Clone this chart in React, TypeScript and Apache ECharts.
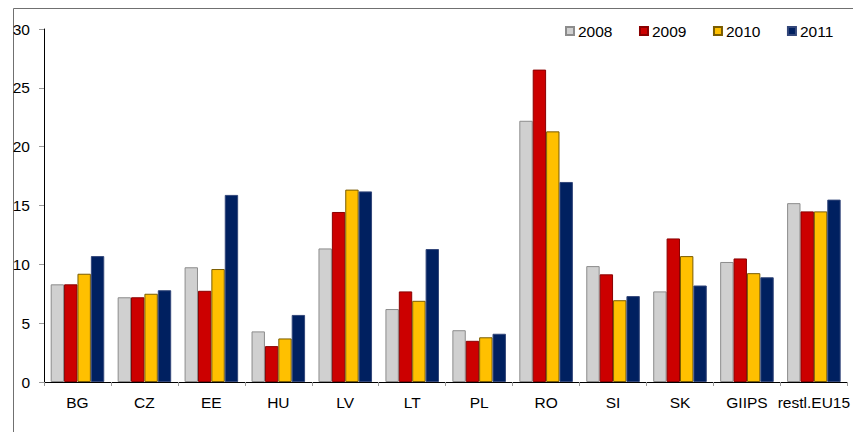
import React, { useEffect, useRef } from "react";
import * as echarts from "echarts";

const categories = ["BG", "CZ", "EE", "HU", "LV", "LT", "PL", "RO", "SI", "SK", "GIIPS", "restl.EU15"];
const years = ["2008", "2009", "2010", "2011"];
const v2008 = [8.3, 7.2, 9.75, 4.3, 11.35, 6.2, 4.4, 22.2, 9.85, 7.7, 10.2, 15.2];
const v2009 = [8.3, 7.2, 7.75, 3.05, 14.45, 7.7, 3.5, 26.55, 9.15, 12.2, 10.5, 14.5];
const v2010 = [9.2, 7.5, 9.6, 3.7, 16.35, 6.9, 3.8, 21.3, 6.95, 10.7, 9.25, 14.5];
const v2011 = [10.7, 7.8, 15.9, 5.7, 16.2, 11.3, 4.1, 17.0, 7.3, 8.2, 8.9, 15.5];
const yTicks = [0, 5, 10, 15, 20, 25, 30];

const fills = ["#d0d0d0", "#cc0000", "#ffc000", "#002060"];
const borders = ["#8c8c8c", "#8a0000", "#7a5c00", "#33477a"];

export default function App() {
  const ref = useRef<HTMLDivElement>(null);
  useEffect(() => {
    if (!ref.current) return;
    const chart = echarts.init(ref.current, null, { renderer: "svg" });
    const data = [v2008, v2009, v2010, v2011];
    const font = "'Liberation Sans', Arial, sans-serif";
    const fs = 15.5;
    chart.setOption({
      animation: false,
      textStyle: { fontFamily: font },
      graphic: [
        {
          type: "rect",
          left: 11,
          top: 6,
          shape: { x: 0, y: 0, width: 900, height: 500 },
          style: { fill: "none", stroke: "#707070", lineWidth: 1 },
          z: -1,
        },
      ],
      legend: {
        left: 560,
        top: 18,
        icon: "rect",
        itemWidth: 8,
        itemHeight: 8,
        itemGap: 26.5,
        textStyle: { fontSize: fs, color: "#000", fontFamily: font, padding: [0, 0, 0, -1] },
        data: years,
      },
      grid: { left: 44, right: 4, top: 29, bottom: 50, containLabel: false },
      xAxis: {
        type: "category",
        data: categories,
        axisLine: { lineStyle: { color: "#000", width: 1 } },
        axisTick: { show: true, length: 4, lineStyle: { color: "#999" } },
        axisLabel: { fontSize: fs, color: "#000", margin: 12, fontFamily: font, interval: 0 },
      },
      yAxis: {
        type: "value",
        min: 0,
        max: 30,
        interval: 5,
        axisLine: { show: true, lineStyle: { color: "#000", width: 1 } },
        axisTick: { show: true, length: 5, lineStyle: { color: "#999" } },
        splitLine: { show: false },
        axisLabel: {
          fontSize: fs,
          color: "#000",
          margin: 14,
          fontFamily: font,
          formatter: (v: number) => (yTicks.includes(v) ? String(v) : ""),
        },
      },
      series: years.map((y, i) => ({
        name: y,
        type: "bar",
        data: data[i],
        barGap: "0%",
        barCategoryGap: "20%",
        itemStyle: { color: fills[i], borderColor: borders[i], borderWidth: 1 },
      })),
    });
    return () => chart.dispose();
  }, []);
  return <div ref={ref} style={{ width: 853, height: 432, position: "absolute", left: 0, top: 0 }} />;
}
